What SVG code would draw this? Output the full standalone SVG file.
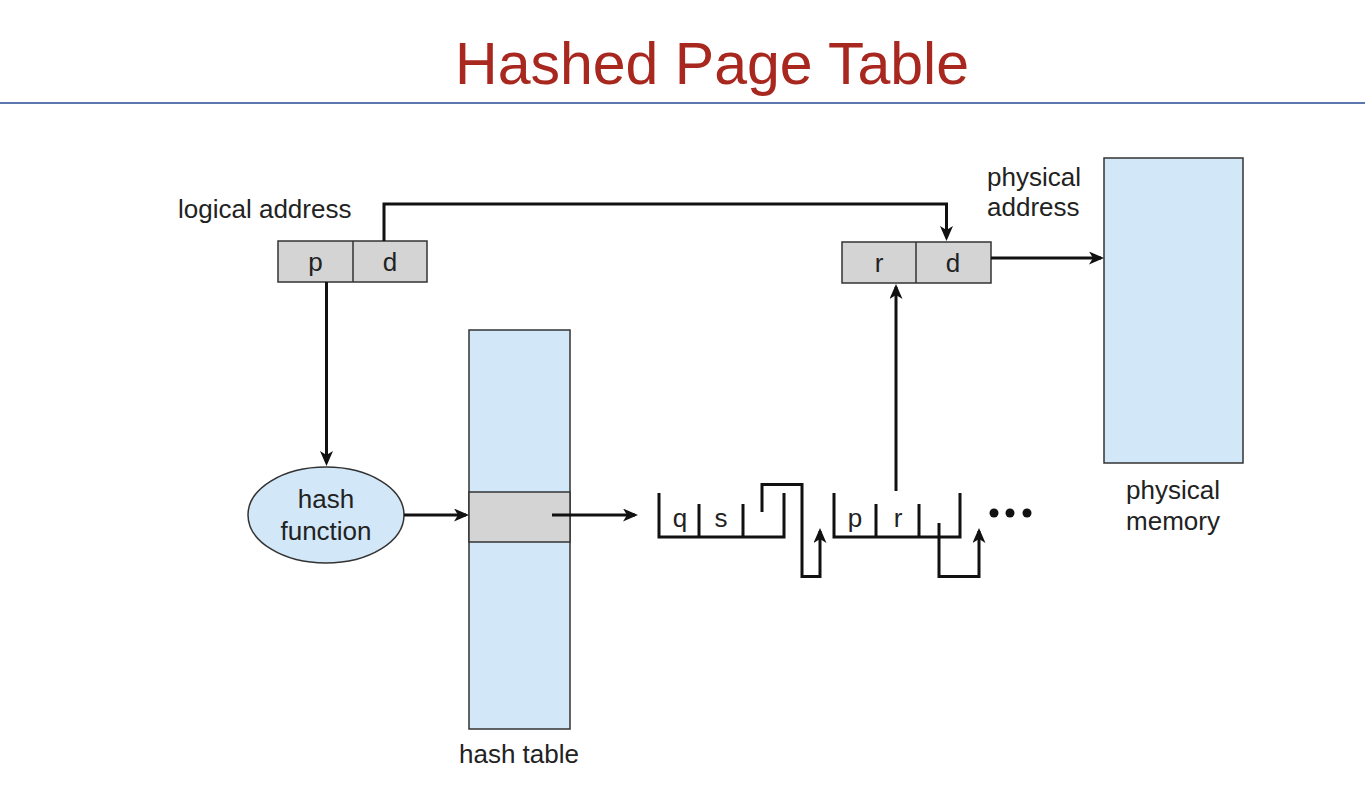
<svg xmlns="http://www.w3.org/2000/svg" width="1365" height="785" viewBox="0 0 1365 785">
<defs>
<marker id="ah" viewBox="0 0 15 13" refX="12" refY="6.5" markerWidth="15" markerHeight="13" markerUnits="userSpaceOnUse" orient="auto">
<path d="M0,0 L15,6.5 L0,13 L4,6.5 z" fill="#111"/>
</marker>
<style>
text{font-family:"Liberation Sans",Arial,sans-serif;fill:#222;font-size:26px}
.title{fill:#A8271E;font-size:59px}
.gray{fill:#D4D4D4;stroke:#333;stroke-width:1.5}
.blue{fill:#D2E7F8;stroke:#333;stroke-width:1.5}
.ln{fill:none;stroke:#111;stroke-width:3}
.arr{fill:none;stroke:#111;stroke-width:3;marker-end:url(#ah)}
</style>
</defs>
<rect width="1365" height="785" fill="#fff"/>
<text class="title" x="712" y="84" text-anchor="middle">Hashed Page Table</text>
<line x1="0" y1="103" x2="1365" y2="103" stroke="#5B78AE" stroke-width="2"/>
<g id="logical-address">
<text x="178" y="218">logical address</text>
<rect class="gray" x="278" y="241" width="149" height="41"/>
<line x1="353" y1="241" x2="353" y2="282" stroke="#333" stroke-width="1.5"/>
<text x="315.5" y="271" text-anchor="middle">p</text>
<text x="390" y="271" text-anchor="middle">d</text>
</g>
<g id="physical-address">
<text x="987" y="186">physical</text>
<text x="987" y="216">address</text>
<rect class="gray" x="842" y="242" width="149" height="41"/>
<line x1="916" y1="242" x2="916" y2="283" stroke="#333" stroke-width="1.5"/>
<text x="879" y="272" text-anchor="middle">r</text>
<text x="953" y="272" text-anchor="middle">d</text>
</g>
<g id="physical-memory">
<rect class="blue" x="1104" y="158" width="139" height="305"/>
<text x="1173" y="499" text-anchor="middle">physical</text>
<text x="1173" y="530" text-anchor="middle">memory</text>
</g>
<g id="hash-function">
<ellipse class="blue" cx="326" cy="515" rx="78" ry="48"/>
<text x="326" y="508" text-anchor="middle">hash</text>
<text x="326" y="540" text-anchor="middle">function</text>
</g>
<g id="hash-table">
<rect class="blue" x="469" y="330" width="101" height="399"/>
<rect class="gray" x="469" y="492" width="101" height="50"/>
<text x="519" y="763" text-anchor="middle">hash table</text>
</g>
<g id="chain-node-1">
<path class="ln" d="M659,493 V537 H784 V493 M699,504 V537 M743,504 V537"/>
<text x="680" y="527" text-anchor="middle">q</text>
<text x="721" y="527" text-anchor="middle">s</text>
</g>
<g id="chain-node-2">
<path class="ln" d="M834,493 V537 H960 V493 M876,504 V537 M919,504 V537"/>
<text x="855" y="527" text-anchor="middle">p</text>
<text x="898" y="527" text-anchor="middle">r</text>
</g>
<g id="ellipsis" fill="#111">
<circle cx="994" cy="513" r="4.5"/>
<circle cx="1010" cy="513" r="4.5"/>
<circle cx="1027" cy="513" r="4.5"/>
</g>
<g id="connectors">
<path class="arr" d="M384,241 V204 H946.5 V238"/>
<path class="arr" d="M991,258 H1101"/>
<path class="arr" d="M326.5,282 V463"/>
<path class="arr" d="M404,515 H466"/>
<path class="arr" d="M552,515 H635"/>
<path class="arr" d="M896,491 V287"/>
<path class="arr" d="M762,512 V484.5 H802 V576.5 H820 V531"/>
<path class="arr" d="M939,523 V576.5 H979 V531"/>
</g>
</svg>
